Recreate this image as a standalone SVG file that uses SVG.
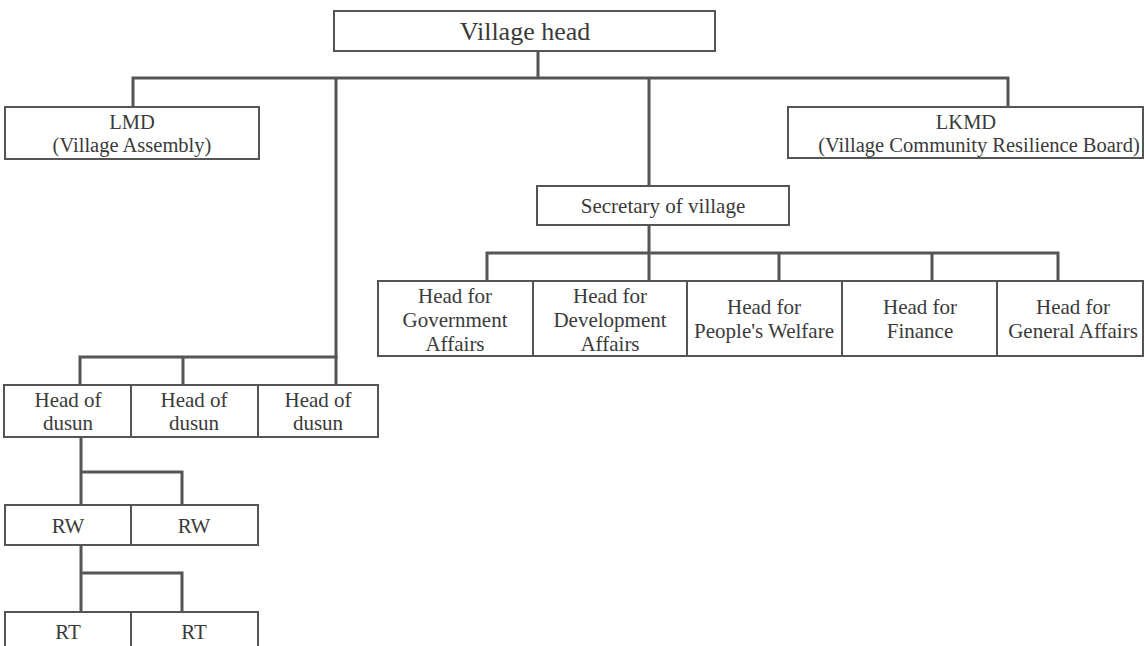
<svg xmlns="http://www.w3.org/2000/svg" width="1145" height="646" viewBox="0 0 1145 646">
<style>
.box{fill:#fff;stroke:#555;stroke-width:2}
.ln{fill:none;stroke:#555;stroke-width:3;stroke-linecap:square}
text{font-family:"Liberation Serif","Times New Roman",serif;fill:#3a3a3a;text-anchor:middle;font-size:21px}
.big{font-size:26px}
.sm{font-size:20.5px}
</style>
<rect width="1145" height="646" fill="#fff"/>
<g id="connectors">
<path class="ln" d="M538 51V78M133 78H1008M133 78V107M1008 78V107M649 78V186M336 78V385"/>
<path class="ln" d="M649 225V253M487 253H1058M487 253V281M649 253V281M779 253V281M932 253V281M1058 253V281"/>
<path class="ln" d="M80 357H336M80 357V385M183 357V385"/>
<path class="ln" d="M81 437V505M81 472H182V505"/>
<path class="ln" d="M81 545V612M81 573H182V612"/>
</g>
<g id="village-head"><rect class="box" x="334" y="11" width="381" height="40"/><text class="big" x="525" y="40">Village head</text></g>
<g id="lmd"><rect class="box" x="5" y="107" width="254" height="52"/><text class="sm" x="132" y="129">LMD</text><text class="sm" x="132" y="152">(Village Assembly)</text></g>
<g id="lkmd"><rect class="box" x="788" y="107" width="355" height="51"/><text class="sm" x="966" y="129">LKMD</text><text class="sm" x="979" y="152">(Village Community Resilience Board)</text></g>
<g id="secretary"><rect class="box" x="537" y="186" width="252" height="39"/><text x="663" y="213">Secretary of village</text></g>
<g id="head-gov"><rect class="box" x="378" y="281" width="155" height="75"/><text x="455" y="303">Head for</text><text x="455" y="327">Government</text><text x="455" y="351">Affairs</text></g>
<g id="head-dev"><rect class="box" x="533" y="281" width="154" height="75"/><text x="610" y="303">Head for</text><text x="610" y="327">Development</text><text x="610" y="351">Affairs</text></g>
<g id="head-welfare"><rect class="box" x="687" y="281" width="155" height="75"/><text x="764" y="314">Head for</text><text x="764" y="338">People's Welfare</text></g>
<g id="head-finance"><rect class="box" x="842" y="281" width="155" height="75"/><text x="920" y="314">Head for</text><text x="920" y="338">Finance</text></g>
<g id="head-general"><rect class="box" x="997" y="281" width="146" height="75"/><text x="1073" y="314">Head for</text><text x="1073" y="338">General Affairs</text></g>
<g id="dusun1"><rect class="box" x="4" y="385" width="127" height="52"/><text x="68" y="407">Head of</text><text x="68" y="430">dusun</text></g>
<g id="dusun2"><rect class="box" x="131" y="385" width="127" height="52"/><text x="194" y="407">Head of</text><text x="194" y="430">dusun</text></g>
<g id="dusun3"><rect class="box" x="258" y="385" width="120" height="52"/><text x="318" y="407">Head of</text><text x="318" y="430">dusun</text></g>
<g id="rw1"><rect class="box" x="5" y="505" width="126" height="40"/><text x="68" y="533">RW</text></g>
<g id="rw2"><rect class="box" x="131" y="505" width="127" height="40"/><text x="194" y="533">RW</text></g>
<g id="rt1"><rect class="box" x="5" y="612" width="126" height="50"/><text x="68" y="639">RT</text></g>
<g id="rt2"><rect class="box" x="131" y="612" width="127" height="50"/><text x="194" y="639">RT</text></g>
</svg>
